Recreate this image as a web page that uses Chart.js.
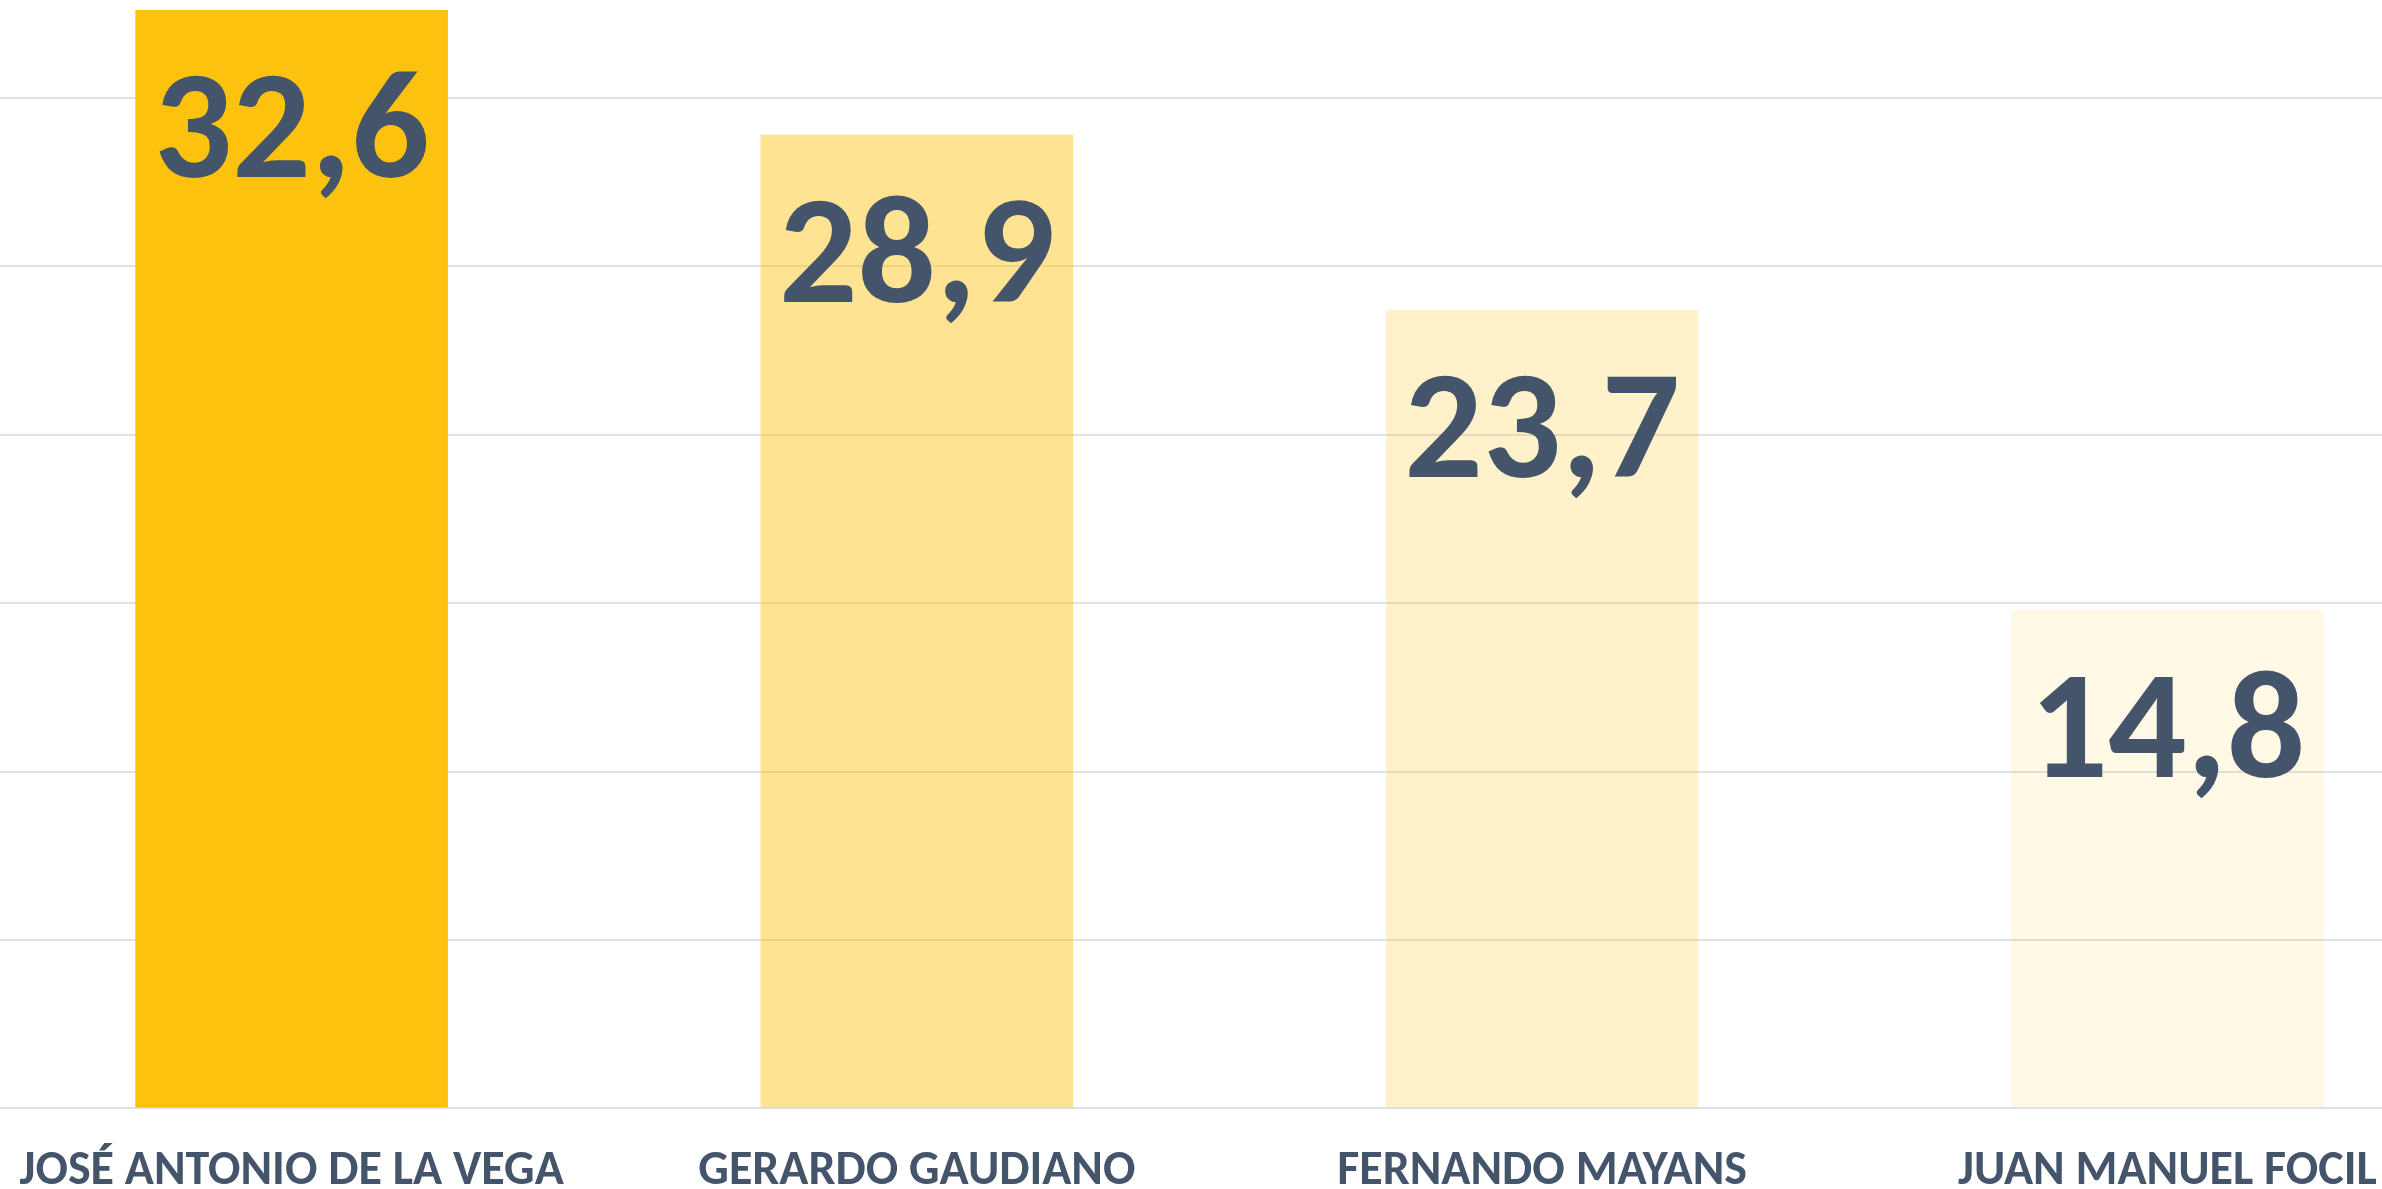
<!DOCTYPE html>
<html>
<head>
<meta charset="utf-8">
<script src="https://cdn.jsdelivr.net/npm/chart.js@4/dist/chart.umd.min.js"></script>
<style>
  html, body { margin: 0; padding: 0; background: #fff; overflow: hidden; width: 2382px; height: 1189px; }
  #wrap { position: absolute; left: -21px; top: 0; width: 2501px; height: 1236px; }
</style>
</head>
<body>
<div id="wrap"><canvas id="c"></canvas></div>
<script>
const categories = ['JOSÉ ANTONIO DE LA VEGA', 'GERARDO GAUDIANO', 'FERNANDO MAYANS', 'JUAN MANUEL FOCIL'];
const values = [32.6, 28.9, 23.7, 14.8];
const barColors = ['rgba(253,194,13,1)', 'rgba(253,194,13,0.45)', 'rgba(253,194,13,0.22)', 'rgba(253,194,13,0.1)'];
const textColor = '#44546A';
const fontFamily = "Carlito, 'Liberation Sans Narrow', 'DejaVu Sans Condensed', sans-serif";

const valueLabels = {
  id: 'valueLabels',
  afterDatasetsDraw(chart) {
    const ctx = chart.ctx;
    const meta = chart.getDatasetMeta(0);
    ctx.save();
    ctx.fillStyle = textColor;
    ctx.font = 'bold 155px ' + fontFamily;
    ctx.textAlign = 'center';
    ctx.textBaseline = 'middle';
    meta.data.forEach((bar, i) => {
      const txt = values[i].toFixed(1).replace('.', ',');
      ctx.fillText(txt, bar.x, bar.y + 128);
    });
    ctx.restore();
  }
};

new Chart(document.getElementById('c'), {
  type: 'bar',
  data: {
    labels: categories,
    datasets: [{
      data: values,
      backgroundColor: barColors,
      borderWidth: 0,
      categoryPercentage: 1.0,
      barPercentage: 0.5
    }]
  },
  options: {
    responsive: true,
    maintainAspectRatio: false,
    animation: false,
    layout: { padding: 0 },
    plugins: { legend: { display: false }, tooltip: { enabled: false } },
    scales: {
      x: {
        grid: { display: false, drawTicks: false },
        border: { display: false },
        ticks: {
          color: textColor,
          padding: 35,
          font: { family: fontFamily, size: 48, weight: 'bold' },
          maxRotation: 0, autoSkip: false
        }
      },
      y: {
        min: 0,
        max: 32.9,
        grid: {
          drawTicks: false,
          color: (c) => (c.tick && Math.abs(c.tick.value % 5) < 1e-6) ? '#DEE2E8' : 'rgba(0,0,0,0)',
          lineWidth: 2
        },
        border: { display: false },
        ticks: { display: false, stepSize: 5 }
      }
    }
  },
  plugins: [valueLabels]
});
</script>
</body>
</html>
